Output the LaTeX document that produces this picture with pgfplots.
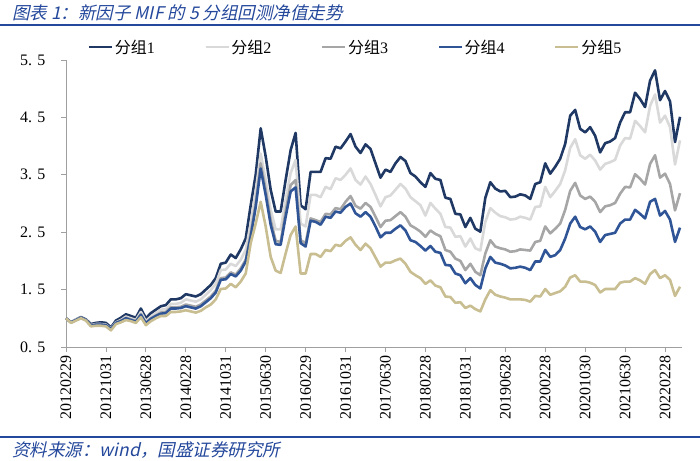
\documentclass[border=0pt]{standalone}
\usepackage{fontspec}
\setmainfont{Liberation Serif}
\newfontfamily\cjk{Noto Sans CJK SC}
\newfontfamily\cjkit[FakeSlant=0.22]{Noto Sans CJK SC}
\usepackage{pgfplots}
\usepackage{pgfplotstable}
\pgfplotsset{compat=1.18}
\definecolor{titleblue}{RGB}{36,72,155}
\definecolor{cA}{RGB}{31,56,100}
\definecolor{cB}{RGB}{217,217,217}
\definecolor{cC}{RGB}{166,166,166}
\definecolor{cD}{RGB}{47,85,151}
\definecolor{cE}{RGB}{200,190,145}
\definecolor{axgray}{RGB}{160,160,160}
\pgfplotstableread{
i s1 s2 s3 s4 s5
0 1.00 1.00 1.00 1.00 1.00
1 0.93 0.93 0.93 0.93 0.92
2 0.98 0.98 0.97 0.97 0.96
3 1.02 1.01 1.01 1.01 1.00
4 0.98 0.97 0.97 0.97 0.96
5 0.90 0.88 0.87 0.87 0.86
6 0.92 0.90 0.89 0.89 0.87
7 0.93 0.90 0.89 0.89 0.87
8 0.92 0.89 0.88 0.88 0.86
9 0.84 0.82 0.81 0.81 0.79
10 0.96 0.93 0.92 0.92 0.90
11 1.01 0.97 0.96 0.95 0.93
12 1.07 1.03 1.01 1.00 0.97
13 1.04 1.00 0.98 0.97 0.95
14 1.01 0.97 0.95 0.94 0.92
15 1.17 1.11 1.07 1.06 1.02
16 1.00 0.95 0.92 0.91 0.88
17 1.09 1.03 1.00 0.99 0.95
18 1.15 1.09 1.05 1.04 1.00
19 1.21 1.15 1.10 1.08 1.04
20 1.23 1.16 1.11 1.09 1.04
21 1.33 1.25 1.19 1.17 1.11
22 1.33 1.25 1.19 1.17 1.11
23 1.35 1.27 1.20 1.18 1.12
24 1.42 1.33 1.24 1.21 1.14
25 1.40 1.31 1.22 1.19 1.12
26 1.38 1.29 1.20 1.17 1.10
27 1.42 1.33 1.24 1.21 1.13
28 1.50 1.41 1.31 1.28 1.19
29 1.58 1.49 1.38 1.35 1.24
30 1.70 1.60 1.48 1.45 1.33
31 1.95 1.84 1.70 1.67 1.51
32 1.97 1.85 1.71 1.68 1.52
33 2.11 1.95 1.80 1.77 1.60
34 2.05 1.91 1.76 1.73 1.54
35 2.20 2.02 1.87 1.83 1.64
36 2.39 2.19 2.02 1.99 1.78
37 2.97 2.65 2.48 2.42 2.31
38 3.50 3.21 3.00 2.94 2.65
39 4.31 3.87 3.70 3.61 3.03
40 3.82 3.41 3.24 3.15 2.60
41 3.24 2.89 2.71 2.63 2.07
42 2.86 2.55 2.35 2.29 1.83
43 2.86 2.55 2.33 2.28 1.79
44 3.41 3.06 2.86 2.77 2.13
45 3.93 3.53 3.32 3.21 2.45
46 4.23 3.76 3.41 3.28 2.60
47 2.97 2.65 2.36 2.31 1.78
48 2.90 2.60 2.31 2.25 1.78
49 3.55 3.15 2.74 2.70 2.12
50 3.55 3.15 2.71 2.68 2.12
51 3.55 3.11 2.68 2.63 2.07
52 3.79 3.29 2.82 2.77 2.19
53 3.78 3.25 2.81 2.75 2.17
54 3.99 3.44 2.92 2.86 2.28
55 3.96 3.41 2.90 2.84 2.26
56 4.08 3.50 3.03 2.94 2.35
57 4.21 3.61 3.13 3.00 2.41
58 3.99 3.41 2.96 2.83 2.28
59 3.88 3.33 2.91 2.77 2.19
60 4.03 3.47 3.01 2.85 2.30
61 3.95 3.34 2.94 2.77 2.22
62 3.70 3.15 2.77 2.60 2.06
63 3.45 2.95 2.59 2.41 1.90
64 3.59 3.11 2.70 2.49 1.97
65 3.55 3.14 2.71 2.49 1.97
66 3.70 3.24 2.78 2.56 2.01
67 3.81 3.34 2.85 2.62 2.04
68 3.74 3.26 2.77 2.53 1.95
69 3.53 3.11 2.62 2.36 1.81
70 3.47 3.04 2.57 2.33 1.75
71 3.37 2.97 2.51 2.26 1.70
72 3.29 2.79 2.42 2.18 1.60
73 3.53 3.01 2.53 2.26 1.66
74 3.43 2.91 2.47 2.16 1.57
75 3.41 2.82 2.43 2.14 1.54
76 3.10 2.59 2.19 1.93 1.38
77 3.08 2.58 2.16 1.92 1.37
78 2.82 2.42 2.04 1.78 1.27
79 2.81 2.43 2.00 1.75 1.28
80 2.59 2.25 1.84 1.61 1.18
81 2.75 2.39 1.95 1.70 1.22
82 2.56 2.22 1.81 1.58 1.16
83 2.51 2.18 1.75 1.52 1.12
84 3.10 2.68 2.13 1.87 1.33
85 3.37 2.92 2.36 2.07 1.49
86 3.26 2.84 2.25 1.97 1.41
87 3.21 2.78 2.22 1.95 1.38
88 3.22 2.76 2.20 1.92 1.36
89 3.11 2.72 2.16 1.87 1.33
90 3.12 2.73 2.17 1.88 1.33
91 3.16 2.77 2.20 1.90 1.33
92 3.14 2.75 2.19 1.88 1.32
93 3.08 2.72 2.18 1.84 1.29
94 3.34 2.94 2.33 1.99 1.39
95 3.37 2.95 2.35 1.99 1.38
96 3.70 3.29 2.60 2.19 1.51
97 3.52 3.11 2.48 2.07 1.41
98 3.64 3.22 2.56 2.10 1.44
99 3.78 3.34 2.65 2.19 1.47
100 4.04 3.58 2.89 2.39 1.55
101 4.53 3.97 3.22 2.65 1.71
102 4.63 4.12 3.36 2.77 1.75
103 4.30 3.84 3.14 2.59 1.64
104 4.24 3.78 3.08 2.55 1.64
105 4.33 3.85 3.12 2.60 1.62
106 4.18 3.75 3.03 2.51 1.58
107 3.89 3.59 2.85 2.33 1.45
108 4.05 3.69 2.95 2.45 1.51
109 4.08 3.72 2.97 2.47 1.51
110 4.14 3.76 3.01 2.49 1.51
111 4.41 4.01 3.17 2.65 1.62
112 4.59 4.14 3.29 2.72 1.64
113 4.59 4.13 3.28 2.72 1.64
114 4.93 4.44 3.51 2.89 1.70
115 4.82 4.35 3.43 2.82 1.66
116 4.68 4.24 3.33 2.74 1.60
117 5.14 4.70 3.69 3.03 1.77
118 5.32 4.90 3.84 3.08 1.84
119 4.80 4.41 3.45 2.79 1.70
120 4.96 4.53 3.52 2.87 1.75
121 4.78 4.33 3.34 2.72 1.67
122 4.07 3.68 2.88 2.33 1.39
123 4.51 4.10 3.18 2.58 1.55
}\datatable
\begin{document}
\begin{tikzpicture}
\useasboundingbox (0pt,0pt) rectangle (700pt,460pt);
\node[anchor=west, inner sep=0pt, text=titleblue, font=\cjkit\fontsize{17.5}{20}\selectfont] at (12pt,447pt) {图表 1：新因子 MIF 的 5 分组回测净值走势};
\draw[titleblue, line width=1.5pt] (0pt,435pt) -- (700pt,435pt);
\draw[titleblue, line width=1.5pt] (0pt,23pt) -- (700pt,23pt);
\node[anchor=west, inner sep=0pt, text=titleblue, font=\cjkit\fontsize{17.5}{20}\selectfont] at (12pt,9.5pt) {资料来源：wind，国盛证券研究所};
\begin{axis}[
  at={(66pt,113pt)}, anchor=south west,
  scale only axis, width=616pt, height=287pt,
  xmin=0, xmax=123.4, ymin=0.5, ymax=5.5,
  axis x line=bottom, axis y line=left,
  axis line style={draw=axgray, line width=0.8pt, -},
  tick align=outside, major tick length=5pt,
  tick style={draw=axgray, line width=0.8pt},
  xtick={0,8,...,120},
  xticklabels={20120229,20121031,20130628,20140228,20141031,20150630,20160229,20161031,20170630,20180228,20181031,20190628,20200228,20201030,20210630,20220228},
  xticklabel style={rotate=90, anchor=east, font=\fontsize{16}{16}\selectfont},
  ytick={0.5,1.5,2.5,3.5,4.5,5.5},
  yticklabels={0. 5,1. 5,2. 5,3. 5,4. 5,5. 5},
  yticklabel style={font=\fontsize{16}{16}\selectfont, xshift=-12pt},
  clip=false,
  legend columns=5,
  legend style={at={(axis description cs:0.035,1.045)}, anchor=west, draw=none, fill=none, inner sep=0pt,
    font=\fontsize{16}{18}\selectfont, nodes={inner sep=1.5pt},
    /tikz/every even column/.append style={column sep=48pt}},
  legend image code/.code={\draw[#1] (0pt,0pt) -- (23pt,0pt);},
  every axis plot/.append style={line width=2.6pt, line join=round},
]
\addplot[cA] table[x=i, y=s1] {\datatable};
\addlegendentry{{\cjk 分组}1}
\addplot[cB] table[x=i, y=s2] {\datatable};
\addlegendentry{{\cjk 分组}2}
\addplot[cC] table[x=i, y=s3] {\datatable};
\addlegendentry{{\cjk 分组}3}
\addplot[cD] table[x=i, y=s4] {\datatable};
\addlegendentry{{\cjk 分组}4}
\addplot[cE] table[x=i, y=s5] {\datatable};
\addlegendentry{{\cjk 分组}5}
\end{axis}
\end{tikzpicture}
\end{document}
